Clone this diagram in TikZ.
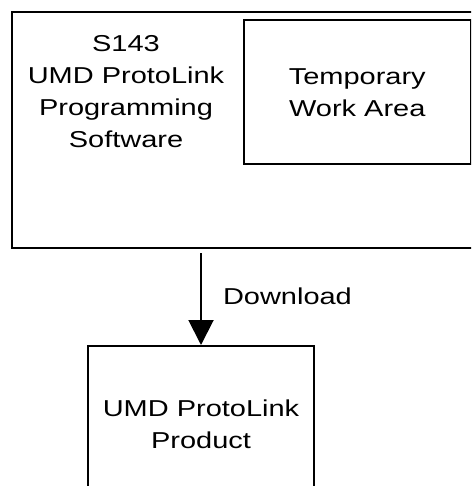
\documentclass[tikz,border=0pt]{standalone}
\usepackage{fontspec}
\setmainfont{Liberation Sans}[FakeStretch=1.26]
\usetikzlibrary{arrows.meta}

\tikzset{
  box/.style={draw=black, line width=2pt, rectangle, inner sep=0pt},
  txt/.style={align=center, inner sep=0pt, font=\fontsize{23}{32}\selectfont},
  flow/.style={line width=2pt, -{Triangle[length=25pt,width=25pt]}}
}

\begin{document}
\begin{tikzpicture}[x=1pt, y=-1pt]
\useasboundingbox (0,0) rectangle (471,486);
\clip (0,0) rectangle (471,486);
% programming software
\node[box, minimum width=468pt, minimum height=236pt] (sw) at (246,130) {};
\node[txt] (swtext) at (126,91.5) {S143\\UMD ProtoLink\\Programming\\Software};
\node[box, txt, minimum width=226.5pt, minimum height=144.5pt] (work) at (357.25,92.25) {Temporary\\Work Area};
% product
\node[box, txt, minimum width=226pt, minimum height=157pt] (prod) at (201,424.5) {UMD ProtoLink\\Product};
\draw[flow, shorten <=4pt] (prod.north |- sw.south) -- node[txt, pos=0.58, anchor=base west, xshift=21pt] (dl) {Download} (prod.north);
\end{tikzpicture}
\end{document}
